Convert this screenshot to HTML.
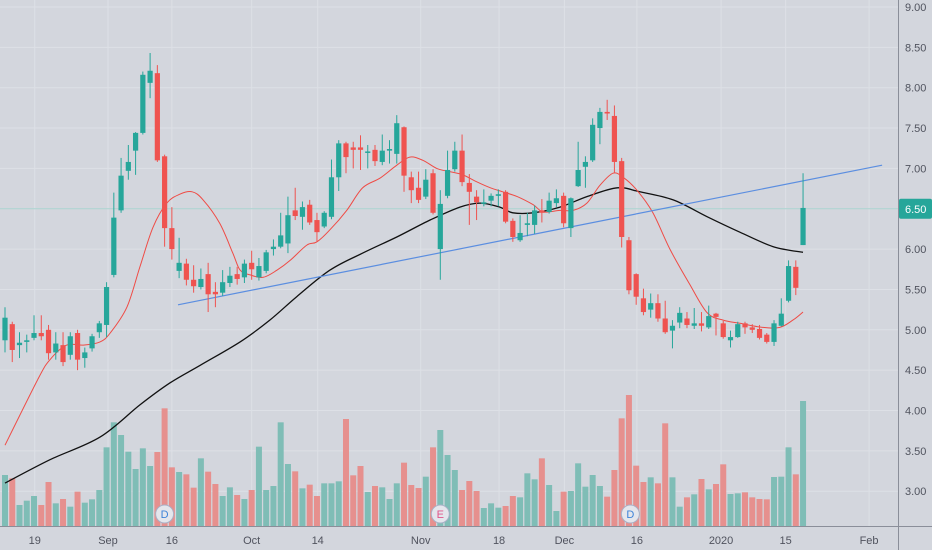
<!DOCTYPE html>
<html><head><meta charset="utf-8">
<style>
html,body{margin:0;padding:0;background:#d3d6dd;}
svg{display:block;font-family:"Liberation Sans",sans-serif;}
</style></head>
<body>
<svg id="chart" width="932" height="550" viewBox="0 0 932 550">
<rect x="0" y="0" width="932" height="550" fill="#d3d6dd"/>
<g id="grid"></g>
<g id="vol"></g>
<g id="lines"></g>
<g id="candles"></g>
<g id="axes"></g>
</svg>
<script>
const opens=[4.87,5.07,4.81,4.85,4.90,4.96,5.00,4.72,4.81,4.69,4.96,4.65,4.77,4.97,5.06,5.68,6.48,6.97,7.22,7.44,8.06,8.18,7.15,6.26,5.73,5.82,5.62,5.53,5.69,5.47,5.46,5.58,5.69,5.65,5.83,5.65,5.73,6.00,6.03,6.07,6.48,6.40,6.55,6.36,6.28,6.40,6.89,7.31,7.26,7.26,7.20,7.23,7.08,7.22,7.18,7.51,6.89,6.76,6.65,6.94,6.00,6.66,6.99,7.22,6.82,6.65,6.57,6.60,6.66,6.71,6.35,6.11,6.30,6.30,6.48,6.46,6.57,6.66,6.26,6.78,7.02,7.10,7.50,7.70,7.65,7.09,6.11,5.69,5.39,5.25,5.33,5.14,4.99,5.09,5.14,5.05,5.08,5.03,5.20,5.08,4.87,4.91,5.08,5.03,5.01,4.94,4.85,5.05,5.36,5.78,6.05];
const closes=[5.15,4.75,4.84,4.87,4.96,4.92,4.71,4.83,4.60,4.92,4.63,4.72,4.92,5.08,5.53,6.39,6.91,7.08,7.44,8.16,8.21,7.10,6.26,6.00,5.83,5.62,5.54,5.63,5.44,5.44,5.59,5.67,5.63,5.82,5.75,5.79,5.96,6.03,6.17,6.42,6.41,6.52,6.33,6.21,6.45,6.89,7.31,7.14,7.23,7.23,7.21,7.09,7.22,7.24,7.56,6.91,6.73,6.61,6.86,6.45,6.56,6.98,7.22,6.83,6.71,6.58,6.58,6.66,6.68,6.34,6.15,6.20,6.32,6.48,6.45,6.60,6.63,6.32,6.63,6.98,7.08,7.54,7.70,7.68,7.08,6.15,5.49,5.41,5.22,5.33,5.14,4.97,5.05,5.21,5.06,5.08,5.05,5.17,5.16,4.91,4.91,5.07,5.03,5.00,4.90,4.85,5.08,5.20,5.79,5.52,6.51];
const highs=[5.28,5.10,4.97,4.94,5.18,5.18,5.06,4.97,4.97,4.97,5.00,4.78,4.95,5.11,5.59,6.70,7.13,7.29,7.45,8.20,8.43,8.28,7.17,6.52,6.14,5.88,5.80,5.76,5.83,5.59,5.74,5.78,5.78,5.87,5.98,5.89,5.99,6.12,6.45,6.65,6.76,6.59,6.61,6.45,6.47,7.11,7.35,7.33,7.33,7.41,7.29,7.29,7.42,7.35,7.66,7.52,6.96,6.96,6.99,6.99,6.73,7.22,7.33,7.42,6.93,6.73,6.74,6.69,6.74,6.73,6.38,6.42,6.45,6.54,6.62,6.70,6.74,6.70,6.64,7.33,7.15,7.62,7.75,7.85,7.78,7.13,6.15,5.70,5.51,5.45,5.44,5.36,5.12,5.28,5.22,5.27,5.22,5.30,5.21,5.11,4.99,5.10,5.10,5.07,5.06,4.96,5.12,5.39,5.86,5.86,6.94];
const lows=[4.72,4.60,4.65,4.72,4.87,4.87,4.63,4.63,4.55,4.63,4.50,4.53,4.73,4.90,4.91,5.65,6.45,6.86,6.92,7.42,7.87,7.08,6.03,5.87,5.64,5.55,5.46,5.50,5.22,5.28,5.42,5.53,5.56,5.58,5.62,5.61,5.70,5.92,6.01,5.95,6.36,6.24,6.30,6.09,6.26,6.37,6.72,6.94,7.00,6.98,7.00,7.03,7.04,7.06,7.06,6.71,6.57,6.57,6.62,6.43,5.62,6.63,6.96,6.78,6.30,6.36,6.53,6.53,6.53,6.32,6.09,6.09,6.16,6.19,6.33,6.44,6.52,6.27,6.15,6.77,6.76,7.08,7.30,7.60,6.95,6.02,5.44,5.31,5.18,5.15,5.10,4.95,4.77,5.02,5.02,5.01,4.98,5.01,4.93,4.89,4.78,4.90,4.95,4.96,4.88,4.83,4.80,5.04,5.34,5.43,6.05];
const volumes=[153,143,63,76,90,63,132,68,81,58,103,70,80,108,236,311,273,223,171,233,180,222,353,176,162,155,115,203,163,126,90,116,93,81,108,238,108,120,311,186,164,113,124,90,128,128,134,321,152,180,102,120,116,81,128,190,123,114,148,236,288,213,168,108,135,105,54,68,55,60,90,86,158,140,203,123,45,103,105,188,118,153,120,88,168,323,393,181,132,146,128,308,146,58,86,95,141,110,126,185,96,98,101,86,81,80,147,148,236,155,375];
const maRedIdx=[0,4.5,6.2,8.5,10.8,13.1,14.5,16.8,18.6,20.4,22.3,24.1,25.8,27.3,29.6,31.4,32.4,33.8,35.6,37.5,39.3,41.6,43.0,44.8,47.1,49.3,51.7,54.0,55.8,57.6,59.5,61.3,63.1,65.1,66.9,68.6,70.6,72.8,74.2,76.5,78.3,80.2,82.0,83.8,85.2,87.1,89.3,91.7,94.4,96.8,99.0,101.3,104.5,106.8,108.6,110];
const maRedVal=[3.57,4.38,4.63,4.81,4.81,4.85,4.96,5.28,5.78,6.27,6.57,6.68,6.71,6.61,6.32,5.95,5.74,5.68,5.65,5.74,5.86,6.05,6.09,6.24,6.48,6.76,6.88,7.04,7.14,7.10,7.00,6.96,6.92,6.83,6.76,6.71,6.65,6.55,6.46,6.48,6.48,6.57,6.79,6.94,6.89,6.73,6.45,5.99,5.56,5.21,5.12,5.08,5.03,5.03,5.12,5.22];
const maBlackIdx=[0,6.2,13.1,18.6,22.7,26.9,32.4,36.5,40.2,44.8,49.3,54.0,58.6,62.7,65.5,68.2,70.0,72.8,76.5,80.2,84.4,87.5,92.1,96.8,101.3,105.9,110];
const maBlackVal=[3.10,3.39,3.67,4.07,4.34,4.56,4.85,5.12,5.41,5.74,5.95,6.15,6.36,6.52,6.57,6.52,6.45,6.45,6.52,6.65,6.76,6.71,6.61,6.40,6.21,6.03,5.96];
const trendIdx=[23.85,120.9];
const trendVal=[5.31,7.04];
const priceTicks=[9.00,8.50,8.00,7.50,7.00,6.50,6.00,5.50,5.00,4.50,4.00,3.50,3.00];
const dateTickIdx=[4.1,14.2,23.0,34.0,43.1,57.3,68.1,77.1,87.1,98.7,107.6,119.1];
const dateTickLabels=["19","Sep","16","Oct","14","Nov","18","Dec","16","2020","15","Feb"];
const eventIdx=[22,60,86.2];
const eventLabels=["D","E","D"];
const lastPrice=6.50;

const NS="http://www.w3.org/2000/svg";
const xOf=i=>5+i*7.255;
const yOf=p=>7+(9-p)*80.7;
const volBase=526;
const vH=v=>v/3;
function mk(tag,attrs,parent){const e=document.createElementNS(NS,tag);for(const k in attrs)e.setAttribute(k,attrs[k]);parent.appendChild(e);return e;}
const G=id=>document.getElementById(id);
const GREEN="#26a69a",RED="#ef5350";

priceTicks.forEach(p=>{const l=mk('line',{x1:0,x2:898,y1:yOf(p),y2:yOf(p),stroke:"#dde0e6","stroke-width":1},G('grid'));

});
dateTickIdx.forEach(i=>{const l=mk('line',{x1:xOf(i),x2:xOf(i),y1:0,y2:526,stroke:"#dde0e6","stroke-width":1},G('grid'));

});
const pl=mk('line',{x1:0,x2:898,y1:yOf(lastPrice),y2:yOf(lastPrice),stroke:"#a9d3cf","stroke-width":1},G('grid'));



volumes.forEach((v,i)=>{const up=closes[i]>=opens[i];
const r=mk('rect',{x:xOf(i)-3,y:volBase-vH(v),width:6,height:vH(v),fill:up?"#7fbdb6":"#e6908e"},G('vol'));

});

function path(idx,val,color,w,name){
const pts=idx.map((i,k)=>[xOf(i),yOf(val[k])]);
let d='M'+pts[0][0].toFixed(1)+' '+pts[0][1].toFixed(1);
for(let k=0;k<pts.length-1;k++){const p0=pts[Math.max(0,k-1)],p1=pts[k],p2=pts[k+1],p3=pts[Math.min(pts.length-1,k+2)];
const c1=[p1[0]+(p2[0]-p0[0])/6,p1[1]+(p2[1]-p0[1])/6],c2=[p2[0]-(p3[0]-p1[0])/6,p2[1]-(p3[1]-p1[1])/6];
d+=' C'+c1[0].toFixed(1)+' '+c1[1].toFixed(1)+' '+c2[0].toFixed(1)+' '+c2[1].toFixed(1)+' '+p2[0].toFixed(1)+' '+p2[1].toFixed(1);}
const p=mk('path',{d:d,fill:"none",stroke:color,"stroke-width":w,"stroke-linejoin":"round"},G('lines'));

}
path(maBlackIdx,maBlackVal,"#111",1.3,'ma-long-line');
path(maRedIdx,maRedVal,"#ef4b45",1,'ma-short-line');
path(trendIdx,trendVal,"#5b8ee0",1.2,'trend-line');

opens.forEach((o,i)=>{const c=closes[i],up=c>=o,col=up?GREEN:RED,x=xOf(i);
const g=mk('g',{},G('candles'));


mk('line',{x1:x,x2:x,y1:yOf(highs[i]),y2:yOf(lows[i]),stroke:col,"stroke-width":1},g);
const t=yOf(Math.max(o,c)),b=yOf(Math.min(o,c));
mk('rect',{x:x-2.6,y:t,width:5.2,height:Math.max(1.5,b-t),fill:col},g);});

const ax=G('axes');
const a1=mk('line',{x1:898.5,x2:898.5,y1:0,y2:550,stroke:"#8a8e99","stroke-width":1},ax);


const a2=mk('line',{x1:0,x2:932,y1:526.5,y2:526.5,stroke:"#8a8e99","stroke-width":1},ax);


priceTicks.forEach(p=>{const t=mk('text',{x:905,y:yOf(p)+4,"font-size":11,fill:"#50535e"},ax);t.textContent=p.toFixed(2);

});
dateTickIdx.forEach((i,k)=>{const t=mk('text',{x:xOf(i),y:544,"font-size":11,fill:"#50535e","text-anchor":"middle"},ax);t.textContent=dateTickLabels[k];

});
const lb=mk('rect',{x:899,y:yOf(lastPrice)-10,width:33,height:20,fill:"#26a69a",rx:2},ax);


const lt=mk('text',{x:905,y:yOf(lastPrice)+4,"font-size":11,fill:"#fff"},ax);lt.textContent=lastPrice.toFixed(2);


eventIdx.forEach((i,k)=>{const g=mk('g',{},ax);


mk('circle',{cx:xOf(i),cy:514,r:9,fill:"#e4e6ec",stroke:"#a8b0c6","stroke-width":1},g);
const t=mk('text',{x:xOf(i),y:518,"font-size":11,"text-anchor":"middle",fill:eventLabels[k]==="E"?"#e0578a":"#3d83d8"},g);t.textContent=eventLabels[k];});
</script>
</body></html>
